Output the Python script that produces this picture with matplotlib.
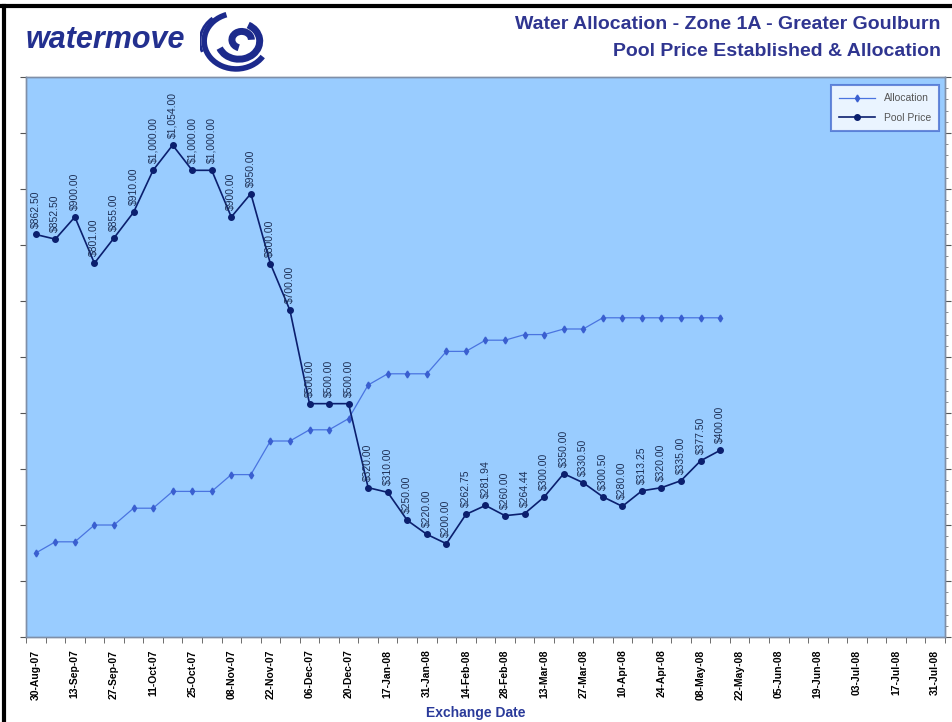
import matplotlib
matplotlib.use("Agg")
import matplotlib.pyplot as plt
from matplotlib.patches import Arc
from matplotlib.lines import Line2D

plt.rcParams['font.family'] = ['Liberation Sans', 'DejaVu Sans']

# Exchange dates (category axis)
exchange_dates = [
    "30-Aug-07", "06-Sep-07", "13-Sep-07", "20-Sep-07", "27-Sep-07", "04-Oct-07",
    "11-Oct-07", "18-Oct-07", "25-Oct-07", "01-Nov-07", "08-Nov-07", "15-Nov-07",
    "22-Nov-07", "29-Nov-07", "06-Dec-07", "13-Dec-07", "20-Dec-07", "10-Jan-08",
    "17-Jan-08", "24-Jan-08", "31-Jan-08", "07-Feb-08", "14-Feb-08", "21-Feb-08",
    "28-Feb-08", "06-Mar-08", "13-Mar-08", "20-Mar-08", "27-Mar-08", "03-Apr-08",
    "10-Apr-08", "17-Apr-08", "24-Apr-08", "01-May-08", "08-May-08", "15-May-08",
    "22-May-08", "29-May-08", "05-Jun-08", "12-Jun-08", "19-Jun-08", "26-Jun-08",
    "03-Jul-08", "10-Jul-08", "17-Jul-08", "24-Jul-08", "31-Jul-08",
]

# Pool price ($/ML) for the first 36 exchanges
pool_price = [
    862.50, 852.50, 900.00, 801.00, 855.00, 910.00, 1000.00, 1054.00, 1000.00,
    1000.00, 900.00, 950.00, 800.00, 700.00, 500.00, 500.00, 500.00, 320.00,
    310.00, 250.00, 220.00, 200.00, 262.75, 281.94, 260.00, 264.44, 300.00,
    350.00, 330.50, 300.50, 280.00, 313.25, 320.00, 335.00, 377.50, 400.00,
]

# Allocation (%)
allocation = [
    15, 17, 17, 20, 20, 23, 23, 26, 26, 26, 29, 29, 35, 35, 37, 37, 39, 45,
    47, 47, 47, 51, 51, 53, 53, 54, 54, 55, 55, 57, 57, 57, 57, 57, 57, 57,
]

navy = "#0b1f6e"
alloc_blue = "#4a74e0"

fig = plt.figure(figsize=(9.52, 7.22), dpi=100)
fig.patch.set_facecolor("white")

ax = fig.add_axes([0.0273, 0.1177, 0.9653, 0.7757])
ax2 = ax.twinx()

xs = list(range(len(pool_price)))

l1, = ax2.plot(xs, allocation, color=alloc_blue, lw=0.9, marker="d",
               markersize=3.5, markerfacecolor="#3a5fd0", markeredgecolor="#3a5fd0",
               label="Allocation")
l2, = ax.plot(xs, pool_price, color=navy, lw=1.2, marker="o", markersize=4,
              markerfacecolor=navy, markeredgecolor=navy, label="Pool Price")
ax.set_zorder(ax2.get_zorder() + 1)
ax.patch.set_visible(False)
ax2.patch.set_visible(True)
ax2.set_facecolor("#99ccff")

for x, p in zip(xs, pool_price):
    ax.annotate("${:,.2f}".format(p), (x, p), xytext=(0, 5), textcoords="offset points",
                rotation=90, ha="center", va="bottom", fontsize=7.5, color="#1d2f55")

ax.set_xlim(-0.5, len(exchange_dates) - 0.5)
ax.set_ylim(0, 1200)
ax2.set_ylim(0, 100)

# category ticks: labels every second exchange, marks between categories
ax.set_xticks(range(0, len(exchange_dates), 2))
ax.set_xticklabels(exchange_dates[::2], rotation=90, fontsize=7.5, fontweight="bold")
ax.set_xticks([i - 0.5 for i in range(len(exchange_dates) + 1)], minor=True)
ax.tick_params(axis="x", which="major", length=0, pad=9)
ax.tick_params(axis="x", which="minor", length=4, color="#555555")

ax.set_yticks(range(0, 1201, 120))
ax.set_yticklabels([])
ax.tick_params(axis="y", length=4, color="#555555")
ax2.set_yticks(range(0, 101, 10))
ax2.set_yticks(range(0, 101, 2), minor=True)
ax2.set_yticklabels([])
ax2.tick_params(axis="y", which="major", length=4, color="#555555")
ax2.tick_params(axis="y", which="minor", length=2, color="#777777")

for a in (ax, ax2):
    for s in a.spines.values():
        s.set_color("#7f8fa8")
        s.set_linewidth(1.0)

leg = ax.legend(handles=[l1, l2], loc="upper right", fontsize=7.5, frameon=True,
                fancybox=False, borderpad=0.8, handlelength=3.5, labelspacing=0.9,
                bbox_to_anchor=(0.9995, 0.995))
leg.get_frame().set_edgecolor("#4a6fd0")
leg.get_frame().set_linewidth(1.5)
leg.get_frame().set_facecolor("white")
for t in leg.get_texts():
    t.set_color("#555555")

fig.text(0.4995, 0.013, "Exchange Date", ha="center", va="center",
         fontsize=10, fontweight="bold", color="#2a3a9a")

# header
fig.text(0.988, 0.966, "Water Allocation - Zone 1A - Greater Goulburn", ha="right",
         va="center", fontsize=14, fontweight="bold", color="#2f3590")
fig.text(0.988, 0.929, "Pool Price Established & Allocation", ha="right",
         va="center", fontsize=14, fontweight="bold", color="#2f3590")
fig.text(0.027, 0.944, "watermove", ha="left", va="center", fontsize=22,
         fontweight="bold", style="italic", color="#23308f")

# swirl logo
lax = fig.add_axes([0.198, 0.893, 0.1, 0.1])
lax.set_xlim(-1.3, 1.3)
lax.set_ylim(-1.3, 1.3)
lax.set_aspect("equal")
lax.axis("off")
lax.add_patch(Arc((0, 0), 2.3, 2.0, theta1=110, theta2=330, lw=4, color="#1c2a8c"))
lax.add_patch(Arc((0.1, 0), 1.5, 1.3, theta1=200, theta2=60, lw=5, color="#1c2a8c"))
lax.add_patch(Arc((0.2, 0.05), 0.7, 0.6, theta1=0, theta2=250, lw=5, color="#1c2a8c"))
lax.add_patch(Arc((-0.15, 0), 2.3, 2.1, theta1=130, theta2=200, lw=2, color="#1c2a8c"))

# frame lines at top and left
fig.add_artist(Line2D([0, 1], [0.992, 0.992], color="black", lw=3))
fig.add_artist(Line2D([0.004, 0.004], [0, 0.992], color="black", lw=3))

fig.savefig("out.png", dpi=100)
